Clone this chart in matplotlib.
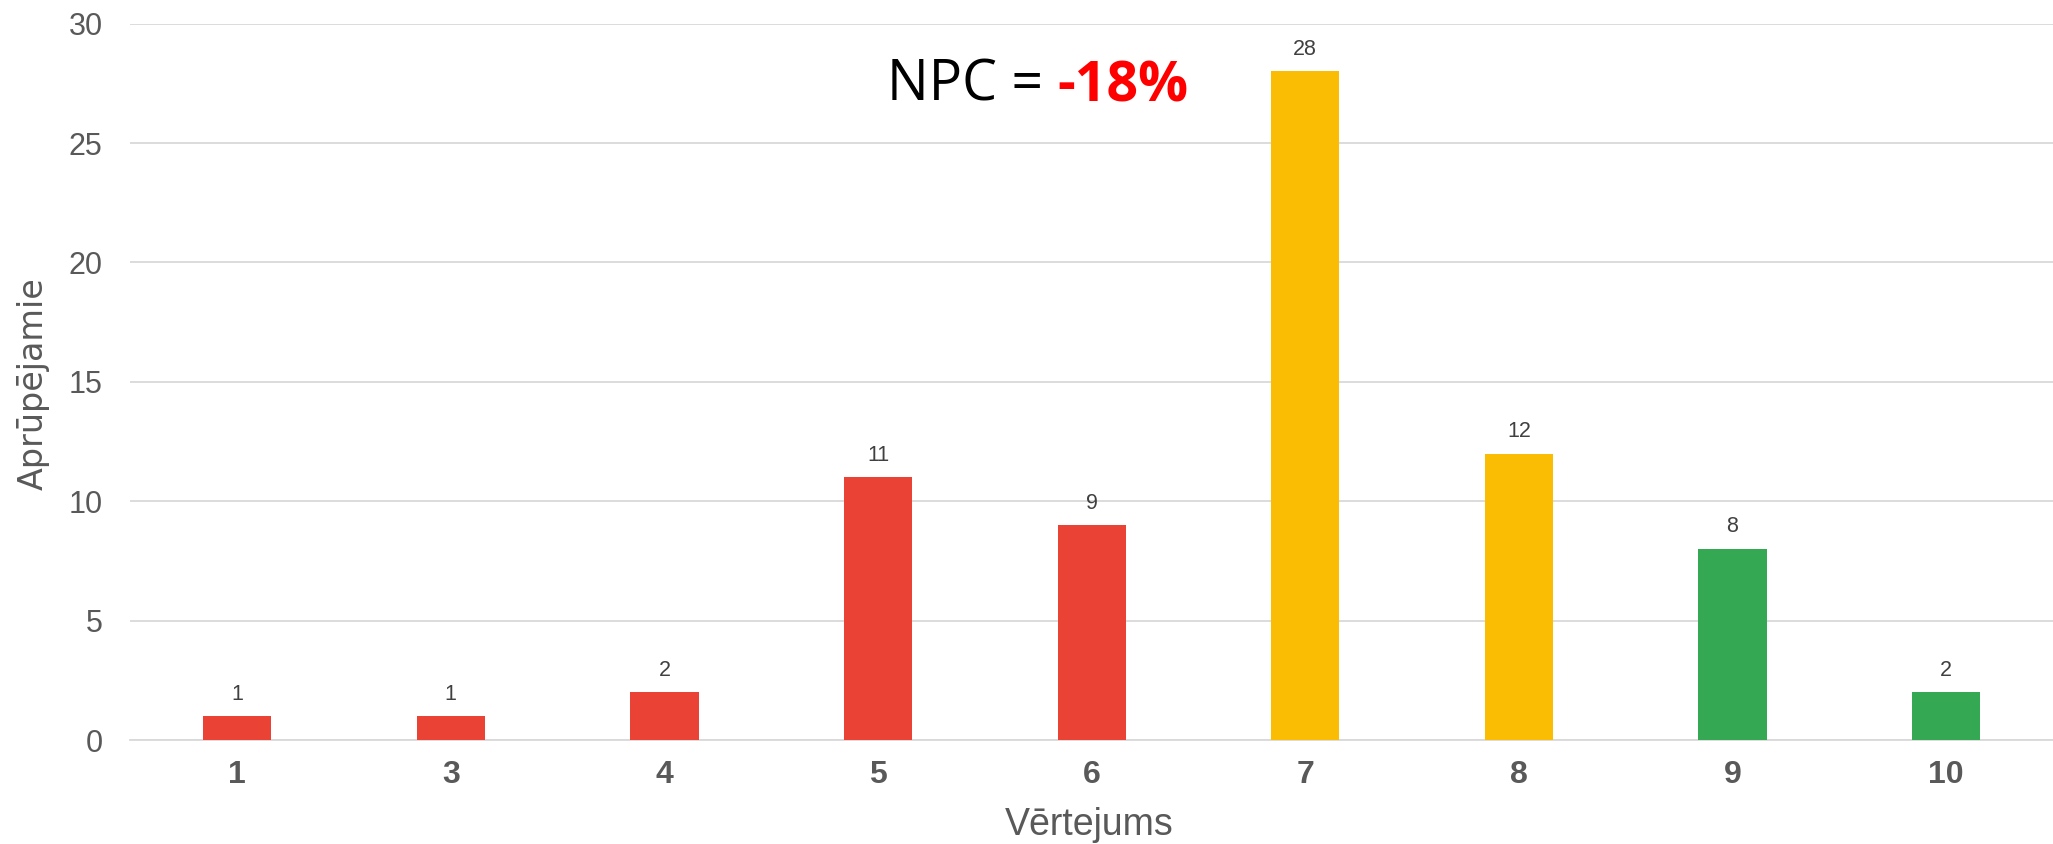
import matplotlib.pyplot as plt

# Rating scores and how many respondents gave each
scores = ['1', '3', '4', '5', '6', '7', '8', '9', '10']
counts = [1, 1, 2, 11, 9, 28, 12, 8, 2]
groups = ['det', 'det', 'det', 'det', 'det', 'pas', 'pas', 'pro', 'pro']
npc_label = 'NPC = '
npc_value = '-18%'

GROUP_COLORS = {'det': '#EA4335', 'pas': '#FBBC04', 'pro': '#34A853'}
GRID = '#D9D9D9'
TEXT = '#595959'

fig = plt.figure(figsize=(20.53, 8.44), dpi=100)
ax = fig.add_axes([0.0635, 0.123, 0.9365, 0.849])

x = range(len(scores))
ax.bar(x, counts, width=0.32, color=[GROUP_COLORS[g] for g in groups], zorder=3)

for xi, v in zip(x, counts):
    ax.annotate(str(v), (xi, v), xytext=(0, 12), textcoords='offset points',
                ha='center', va='baseline', fontsize=15.5, color='#404040', family='Liberation Sans')

ax.set_xlim(-0.5, len(scores) - 0.5)
ax.set_ylim(0, 30)
ax.set_yticks(range(0, 31, 5))
ax.set_xticks(list(x))
ax.set_xticklabels(scores, fontsize=23, fontweight='bold', color=TEXT, family='Liberation Sans')
for lbl in ax.get_yticklabels():
    lbl.set_fontsize(22)
    lbl.set_color(TEXT)
    lbl.set_family('Liberation Sans')
ax.tick_params(axis='both', length=0)
ax.tick_params(axis='x', pad=14)
ax.tick_params(axis='y', pad=20)

ax.grid(axis='y', color=GRID, linewidth=1.3, zorder=0)
for side in ['top', 'right', 'left']:
    ax.spines[side].set_visible(False)
ax.spines['bottom'].set_color(GRID)
ax.spines['bottom'].set_linewidth(1.3)

ax.set_xlabel('Vērtejums', fontsize=27, color=TEXT, family='Liberation Sans')
ax.xaxis.label.set_va('baseline')
ax.xaxis.set_label_coords(0.4985, -0.1326)
ax.set_ylabel('Aprūpējamie', fontsize=24, color=TEXT, family='DejaVu Sans')
ax.yaxis.label.set_va('center')
ax.yaxis.set_label_coords(-0.0505, 0.497)

t1 = fig.text(0.432, 0.8807, npc_label, fontsize=40, color='black', family='Open Sans',
              ha='left', va='baseline')
ax.annotate(npc_value, xy=(1, 0), xycoords=t1, va='bottom', ha='left',
            fontsize=40, fontweight='bold', color='#FF0000', family='Open Sans')

fig.savefig('out.png', dpi=100, facecolor='white')
